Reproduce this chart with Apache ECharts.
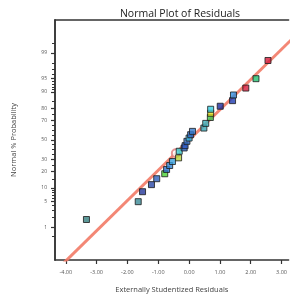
<!DOCTYPE html>
<html>
<head>
<meta charset="utf-8">
<script src="https://cdn.jsdelivr.net/npm/echarts@6/dist/echarts.min.js"></script>
<style>
  html, body { margin: 0; padding: 0; background: #fff; }
  #chart { width: 290px; height: 299px; }
</style>
</head>
<body>
<div id="chart"></div>
<script>
// residuals (sorted) and their normal % probability
const residuals = [-3.33, -1.65, -1.51, -1.22, -1.05, -0.79, -0.73, -0.63, -0.54, -0.34,
  -0.32, -0.16, -0.13, -0.07, 0.0, 0.05, 0.11, 0.48, 0.54, 0.69,
  0.70, 0.70, 1.01, 1.41, 1.44, 1.84, 2.17, 2.56]
const probPct = [1.7, 5.0, 8.4, 11.7, 15.1, 18.4, 21.6, 24.8, 28.3, 31.7,
  38.2, 41.6, 44.0, 48.6, 52.1, 55.6, 59.1, 62.5, 67.1, 72.6,
  76.2, 79.4, 81.6, 85.3, 88.5, 91.7, 94.9, 98.3]
const pointColors = ['#357f80', '#3a8a96', '#24379a', '#2a48a8', '#2f62bf', '#49d232', '#2d6fcb',
  '#3384d4', '#3aa0dc', '#b8d43a', '#3ad4d8', '#2c60c4', '#2a58c0', '#2f70c8',
  '#38b8e0', '#2d68c6', '#3278cc', '#3aa8b8', '#3cb4c0', '#3ec850', '#e4e020',
  '#3ad0e4', '#1c2c9c', '#1e3cb0', '#2f8ee0', '#d41a3a', '#22c070', '#d41a3a']

// highlighted point (circle)
const markResid = [-0.43]
const markPct = [36.2]

// fitted normal line end points
const fitResid = [-4.08, 4.08]
const fitPct = [0.05, 99.95]

const xTicks = [-4, -3, -2, -1, 0, 1, 2, 3]
const yLabelPct = [1, 5, 10, 20, 30, 50, 70, 80, 90, 95, 99]
const yMinorPct = [0.5, 1, 2, 3, 4, 5, 6, 7, 8, 9, 10, 15, 20, 25, 30, 35, 40, 45, 50, 55,
  60, 65, 70, 75, 80, 85, 90, 91, 92, 93, 94, 95, 96, 97, 98, 99, 99.5]

// inverse standard normal CDF (Acklam) -> probability scale
function probit(p) {
  const a = [-3.969683028665376e+01, 2.209460984245205e+02, -2.759285104469687e+02,
    1.383577518672690e+02, -3.066479806614716e+01, 2.506628277459239e+00]
  const b = [-5.447609879822406e+01, 1.615858368580409e+02, -1.556989798598866e+02,
    6.680131188771972e+01, -1.328068155288572e+01]
  const c = [-7.784894002430293e-03, -3.223964580411365e-01, -2.400758277161838e+00,
    -2.549732539343734e+00, 4.374664141464968e+00, 2.938163982698783e+00]
  const d = [7.784695709041462e-03, 3.224671290700398e-01, 2.445134137142996e+00,
    3.754408661907416e+00]
  const pl = 0.02425
  let q, r
  if (p < pl) {
    q = Math.sqrt(-2 * Math.log(p))
    return (((((c[0] * q + c[1]) * q + c[2]) * q + c[3]) * q + c[4]) * q + c[5]) /
      ((((d[0] * q + d[1]) * q + d[2]) * q + d[3]) * q + 1)
  }
  if (p > 1 - pl) {
    q = Math.sqrt(-2 * Math.log(1 - p))
    return -(((((c[0] * q + c[1]) * q + c[2]) * q + c[3]) * q + c[4]) * q + c[5]) /
      ((((d[0] * q + d[1]) * q + d[2]) * q + d[3]) * q + 1)
  }
  q = p - 0.5
  r = q * q
  return (((((a[0] * r + a[1]) * r + a[2]) * r + a[3]) * r + a[4]) * r + a[5]) * q /
    (((((b[0] * r + b[1]) * r + b[2]) * r + b[3]) * r + b[4]) * r + 1)
}
const z = (pct) => probit(pct / 100)

const yLabelZ = yLabelPct.map(z)
const fontFamily = '"Open Sans", "Liberation Sans", sans-serif'
const axisLineStyle = { color: '#333', width: 1.5 }

const chart = echarts.init(document.getElementById('chart'), null, { renderer: 'canvas' })

chart.setOption({
  backgroundColor: '#fff',
  animation: false,
  title: {
    text: 'Normal Plot of Residuals',
    left: 175,
    top: 4,
    textAlign: 'center',
    textStyle: { fontSize: 10.5, fontWeight: 'normal', color: '#222', fontFamily }
  },
  grid: { left: 55, right: 0, top: 20, bottom: 37 },
  xAxis: [
    {
      type: 'value',
      min: -4.35,
      max: 3.23,
      name: 'Externally Studentized Residuals',
      nameLocation: 'middle',
      nameGap: 26,
      nameTextStyle: { fontSize: 7.5, color: '#444', fontFamily },
      axisLine: { onZero: false, lineStyle: axisLineStyle },
      axisTick: { customValues: xTicks, length: 4, lineStyle: { color: '#333', width: 1.2 } },
      axisLabel: {
        customValues: xTicks,
        margin: 9,
        fontSize: 5.5,
        color: '#555',
        fontFamily,
        formatter: (v) => v.toFixed(2)
      },
      splitLine: { show: false }
    },
    {
      type: 'value',
      position: 'top',
      min: -4.35,
      max: 3.23,
      axisLine: { onZero: false, lineStyle: axisLineStyle },
      axisTick: { show: false },
      axisLabel: { show: false },
      splitLine: { show: false }
    }
  ],
  yAxis: [
    {
      type: 'value',
      min: -3.2,
      max: 3.2,
      name: 'Normal % Probability',
      nameLocation: 'middle',
      nameGap: 37,
      nameTextStyle: { fontSize: 7.5, color: '#444', fontFamily },
      axisLine: { show: true, onZero: false, lineStyle: axisLineStyle },
      axisTick: { customValues: yLabelZ, length: 4, lineStyle: { color: '#333', width: 1.2 } },
      axisLabel: {
        customValues: yLabelZ,
        margin: 8,
        fontSize: 5,
        color: '#555',
        fontFamily,
        formatter: (v) => {
          let best = 0
          yLabelZ.forEach((t, i) => { if (Math.abs(t - v) < Math.abs(yLabelZ[best] - v)) best = i })
          return String(yLabelPct[best])
        }
      },
      splitLine: { show: false }
    },
    {
      type: 'value',
      min: -3.2,
      max: 3.2,
      position: 'left',
      axisLine: { show: true, onZero: false, lineStyle: axisLineStyle },
      axisTick: { show: true, customValues: yMinorPct.map(z), length: 3, lineStyle: { color: '#333', width: 1 } },
      axisLabel: { show: false },
      splitLine: { show: false }
    }
  ],
  series: [
    {
      type: 'line',
      data: fitResid.map((r, i) => [r, z(fitPct[i])]),
      showSymbol: false,
      clip: true,
      lineStyle: { color: '#f27a66', width: 3, opacity: 0.9 },
      z: 1
    },
    {
      type: 'scatter',
      data: residuals.map((r, i) => ({
        value: [r, z(probPct[i])],
        itemStyle: { color: pointColors[i] }
      })),
      symbol: 'rect',
      symbolSize: 6,
      itemStyle: { borderColor: '#1a1a1a', borderWidth: 1 },
      z: 3
    },
    {
      type: 'scatter',
      data: markResid.map((r, i) => [r, z(markPct[i])]),
      symbol: 'emptyCircle',
      symbolSize: 8,
      itemStyle: { color: '#e07a7a', borderColor: '#e07a7a', borderWidth: 1.2 },
      z: 2
    }
  ]
})
</script>
</body>
</html>
